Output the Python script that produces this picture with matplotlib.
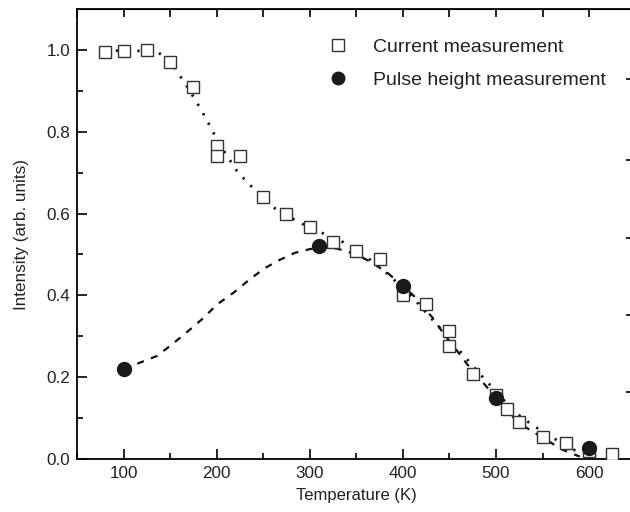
import numpy as np
import matplotlib
matplotlib.use("Agg")
import matplotlib.pyplot as plt

plt.rcParams['font.family'] = ['Liberation Sans', 'DejaVu Sans']

# current measurement (open squares)
cur_T = [80, 100, 125, 150, 175, 200, 200, 225, 250, 275, 300, 325, 350, 375,
         400, 425, 450, 450, 475, 500, 512, 525, 550, 575, 600, 625]
cur_I = [0.995, 0.998, 1.0, 0.97, 0.91, 0.765, 0.741, 0.741, 0.64, 0.60, 0.567,
         0.53, 0.509, 0.49, 0.401, 0.38, 0.312, 0.276, 0.207, 0.157, 0.122,
         0.09, 0.054, 0.039, 0.019, 0.012]

# pulse height measurement (filled circles)
pul_T = [100, 310, 400, 500, 600]
pul_I = [0.22, 0.52, 0.423, 0.148, 0.027]

# dotted guide through current data
dot_T = [80, 100, 125, 140, 150, 158, 167, 177, 188, 199, 210, 223, 238, 258,
         275, 288, 300, 316, 336, 350, 365, 385, 411, 430, 450, 462, 480, 500,
         520, 539, 560, 580, 600, 612]
dot_I = [0.997, 0.999, 0.997, 0.99, 0.976, 0.945, 0.915, 0.878, 0.835, 0.787,
         0.745, 0.70, 0.665, 0.619, 0.595, 0.58, 0.565, 0.55, 0.53, 0.51,
         0.487, 0.45, 0.394, 0.345, 0.295, 0.262, 0.215, 0.165, 0.115, 0.083,
         0.054, 0.025, 0.01, 0.003]

# dashed guide through pulse height data
dsh_T = [100, 117, 136, 152, 168, 186, 200, 219, 236, 252, 268, 284, 300, 315,
         330, 351, 367, 384, 400, 414, 432, 444, 458, 469, 483, 500, 512, 523,
         548, 572, 590]
dsh_I = [0.22, 0.235, 0.252, 0.28, 0.31, 0.345, 0.377, 0.408, 0.44, 0.467,
         0.487, 0.504, 0.513, 0.518, 0.514, 0.499, 0.48, 0.454, 0.423, 0.394,
         0.345, 0.306, 0.265, 0.232, 0.195, 0.15, 0.12, 0.09, 0.055, 0.022,
         0.006]

x_major = [100, 200, 300, 400, 500, 600]
y_major = [0.0, 0.2, 0.4, 0.6, 0.8, 1.0]
right_ticks = [0.164, 0.352, 0.540, 0.731, 0.93]

txt = '#222222'

fig = plt.figure(figsize=(6.3, 5.12), dpi=100)
ax = fig.add_axes([0.1222, 0.1035, 0.8867, 0.8789])

ax.plot(dot_T, dot_I, color='#111111', lw=2.0, linestyle=(0, (0.8, 3.1)), zorder=2)
ax.plot(dsh_T, dsh_I, color='#111111', lw=1.6, linestyle=(0, (3.2, 3.4)), zorder=2)
ax.plot(cur_T, cur_I, 's', ms=9, mfc='white', mec='#333333', mew=1.0,
        linestyle='none', zorder=3, label='Current measurement')
ax.plot(pul_T, pul_I, 'o', ms=10, mfc='#1a1a1a', mec='#1a1a1a',
        linestyle='none', zorder=4, label='Pulse height measurement')

ax.set_xlim(50, 650)
ax.set_ylim(0, 1.1)
ax.set_xticks(x_major)
ax.set_xticks(np.arange(50, 651, 100), minor=True)
ax.set_yticks(y_major)
ax.set_yticks(np.arange(0.1, 1.0, 0.2), minor=True)
ax.set_yticklabels(['%.1f' % v for v in y_major])

ax.tick_params(which='major', direction='in', length=7, width=1.2,
               labelsize=12.3, colors='black', labelcolor=txt, pad=5)
ax.tick_params(which='minor', direction='in', length=4, width=1.2)
ax.tick_params(top=False, right=False, which='both')
for s in ax.spines.values():
    s.set_linewidth(1.3)

top = ax.secondary_xaxis('top')
top.set_xticks(np.arange(50, 651, 50))
top.tick_params(direction='in', length=6, width=1.2, labeltop=False)

right = ax.secondary_yaxis('right')
right.set_yticks(right_ticks)
right.tick_params(direction='in', length=7, width=1.2, labelright=False)

ax.set_xlabel('Temperature (K)', fontsize=12, color=txt, labelpad=5)
ax.set_ylabel('Intensity (arb. units)', fontsize=12.3, color=txt, labelpad=12)

leg = ax.legend(loc='upper left', bbox_to_anchor=(0.449, 0.935), frameon=False,
                fontsize=14, handlelength=1.0, handletextpad=1.3,
                borderpad=0, borderaxespad=0,
                labelspacing=0.8, markerscale=0.9, labelcolor=txt)

fig.savefig('out.png', dpi=100)
